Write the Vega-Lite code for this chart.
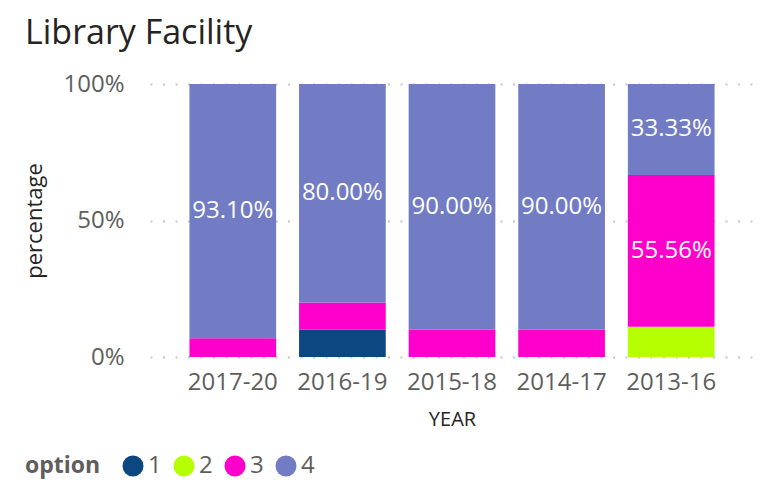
{
  "$schema": "https://vega.github.io/schema/vega-lite/v6.json",
  "width": 604,
  "height": 273,
  "autosize": {"type": "none"},
  "padding": {"left": 150, "top": 84, "right": 10, "bottom": 141},
  "background": "white",
  "title": {
    "text": "Library Facility",
    "anchor": "start",
    "frame": "group",
    "dx": -125,
    "offset": 21,
    "font": "Open Sans",
    "fontSize": 34,
    "fontWeight": "normal",
    "color": "#252423"
  },
  "data": {
    "values": [
      {"YEAR": "2017-20", "option": "3", "value": 0.069},
      {"YEAR": "2017-20", "option": "4", "value": 0.931},
      {"YEAR": "2016-19", "option": "1", "value": 0.10},
      {"YEAR": "2016-19", "option": "3", "value": 0.10},
      {"YEAR": "2016-19", "option": "4", "value": 0.80},
      {"YEAR": "2015-18", "option": "3", "value": 0.10},
      {"YEAR": "2015-18", "option": "4", "value": 0.90},
      {"YEAR": "2014-17", "option": "3", "value": 0.10},
      {"YEAR": "2014-17", "option": "4", "value": 0.90},
      {"YEAR": "2013-16", "option": "2", "value": 0.1111},
      {"YEAR": "2013-16", "option": "3", "value": 0.5556},
      {"YEAR": "2013-16", "option": "4", "value": 0.3333}
    ]
  },
  "encoding": {
    "x": {
      "field": "YEAR",
      "type": "nominal",
      "sort": ["2017-20", "2016-19", "2015-18", "2014-17", "2013-16"],
      "scale": {"paddingInner": 0.209, "paddingOuter": 0.36},
      "axis": {
        "labelAngle": 0,
        "labelFont": "Open Sans",
        "labelFontSize": 24,
        "labelColor": "#605e5c",
        "labelPadding": 13,
        "ticks": false,
        "domain": false,
        "titleFont": "Open Sans",
        "titleFontSize": 20,
        "titleFontWeight": "normal",
        "titleColor": "#252423",
        "titlePadding": 15
      }
    },
    "y": {
      "field": "value",
      "type": "quantitative",
      "stack": "normalize",
      "title": "percentage",
      "axis": {
        "values": [0, 0.5, 1],
        "format": ".0%",
        "labelFont": "Open Sans",
        "labelFontSize": 24,
        "labelColor": "#605e5c",
        "labelPadding": 26,
        "ticks": false,
        "tickSize": 0,
        "domain": false,
        "grid": true,
        "gridColor": "#c8c6c4",
        "gridDash": [2, 10.5],
        "gridWidth": 2,
        "titleFont": "Open Sans",
        "titleFontSize": 22,
        "titleFontWeight": "normal",
        "titleColor": "#252423",
        "titlePadding": 16
      }
    },
    "order": {"field": "option", "type": "nominal", "sort": "ascending"}
  },
  "layer": [
    {
      "mark": {"type": "bar"},
      "encoding": {
        "color": {
          "field": "option",
          "type": "nominal",
          "scale": {
            "domain": ["1", "2", "3", "4"],
            "range": ["#0b4780", "#b6ff00", "#ff00cc", "#717cc5"]
          },
          "legend": {
            "orient": "none",
            "legendX": -125,
            "legendY": 370,
            "direction": "horizontal",
            "titleOrient": "left",
            "title": "option",
            "titleFont": "Open Sans",
            "titleFontSize": 23,
            "titleFontWeight": "bold",
            "titleColor": "#605e5c",
            "titlePadding": 20,
            "titleBaseline": "middle",
            "labelFont": "Open Sans",
            "labelFontSize": 24,
            "labelColor": "#605e5c",
            "labelOffset": 3,
            "columnPadding": 10,
            "symbolType": "circle",
            "symbolSize": 441,
            "symbolStrokeWidth": 0,
            "symbolOpacity": 1
          }
        }
      }
    },
    {
      "mark": {
        "type": "text",
        "color": "white",
        "font": "Open Sans",
        "fontSize": 24,
        "baseline": "middle"
      },
      "encoding": {
        "y": {"field": "value", "type": "quantitative", "stack": "normalize", "bandPosition": 0.5},
        "detail": {"field": "option"},
        "text": {
          "condition": {"test": "datum.value > 0.3", "field": "value", "type": "quantitative", "format": ".2%"},
          "value": ""
        }
      }
    }
  ],
  "config": {"view": {"stroke": null}}
}
